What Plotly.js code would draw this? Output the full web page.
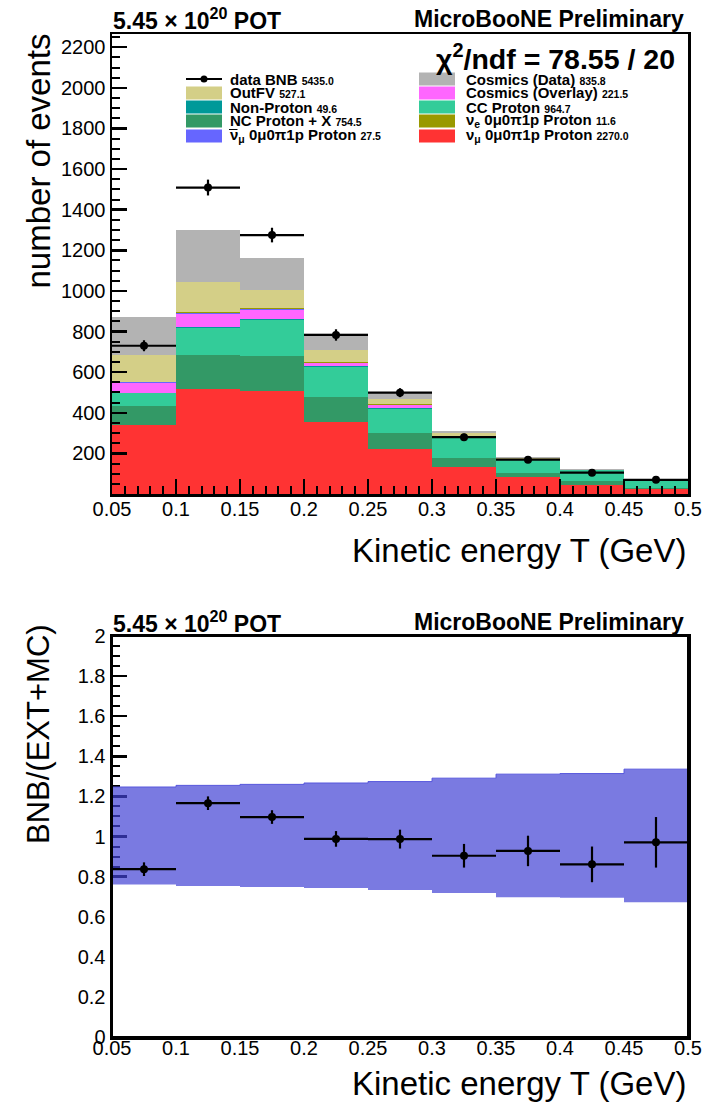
<!DOCTYPE html>
<html><head><meta charset="utf-8">
<script src="https://cdn.plot.ly/plotly-3.0.1.min.js"></script>
<style>html,body{margin:0;padding:0;background:#fff}#chart{width:703px;height:1103px}</style>
</head><body><div id="chart"></div>
<script>
// ---------------- data ----------------
const binEdges   = [0.05, 0.1, 0.15, 0.2, 0.25, 0.3, 0.35, 0.4, 0.45, 0.5];
const binCenters = [0.075, 0.125, 0.175, 0.225, 0.275, 0.325, 0.375, 0.425, 0.475];
const binHalfWidth = [0.025, 0.025, 0.025, 0.025, 0.025, 0.025, 0.025, 0.025, 0.025];

const numuProton     = [338, 517, 509, 353, 223, 133, 83, 46, 27];
const ncProtonX      = [93, 166, 169, 123, 77, 42, 22, 18, 4];
const ccProton       = [65, 133, 178, 147, 120, 103, 62, 52, 34];
const nonProton      = [3, 5, 4, 6, 5, 4, 3, 2, 2];
const cosmicsOverlay = [49, 66, 48, 15, 12, 2, 1, 0, 0];
const numubarProton  = [2, 5, 4, 3, 2, 1, 1, 0, 0];
const nueProton      = [1, 2, 2, 3, 2, 1, 1, 0, 0];
const outFV          = [134, 149, 90, 57, 28, 13, 4, 1, 1];
const cosmicsData    = [186, 258, 160, 87, 33, 13, 5, 2, 3];

const dataBNB    = [730, 1509, 1275, 783, 499, 280, 169, 105, 70];
const dataBNBErr = [27, 39, 36, 28, 22, 17, 13, 10, 8];

const ratio     = [0.837, 1.166, 1.097, 0.988, 0.987, 0.904, 0.928, 0.861, 0.971];
const ratioErr  = [0.034, 0.034, 0.034, 0.039, 0.047, 0.059, 0.076, 0.089, 0.126];
const bandUpper = [1.247, 1.255, 1.260, 1.267, 1.274, 1.291, 1.311, 1.314, 1.336];
const bandLower = [0.761, 0.753, 0.748, 0.743, 0.733, 0.718, 0.697, 0.694, 0.672];

const xTickVals = [0.05, 0.1, 0.15, 0.2, 0.25, 0.3, 0.35, 0.4, 0.45, 0.5];
const xTickText = ["0.05", "0.1", "0.15", "0.2", "0.25", "0.3", "0.35", "0.4", "0.45", "0.5"];
const yTickVals = [200, 400, 600, 800, 1000, 1200, 1400, 1600, 1800, 2000, 2200];
const yTickText = ["200", "400", "600", "800", "1000", "1200", "1400", "1600", "1800", "2000", "2200"];
const rTickVals = [0, 0.2, 0.4, 0.6, 0.8, 1, 1.2, 1.4, 1.6, 1.8, 2];
const rTickText = ["0", "0.2", "0.4", "0.6", "0.8", "1", "1.2", "1.4", "1.6", "1.8", "2"];

// stack order (bottom -> top)
const stackNames  = ["numuProton", "ncProtonX", "ccProton", "nonProton", "cosmicsOverlay", "numubarProton", "nueProton", "outFV", "cosmicsData"];
const stackValues = [numuProton, ncProtonX, ccProton, nonProton, cosmicsOverlay, numubarProton, nueProton, outFV, cosmicsData];
const stackColors = ["#ff3333", "#339966", "#33cc99", "#009999", "#ff66ff", "#6666ff", "#999900", "#d4cf87", "#b3b3b3"];

// legend
const legLeftLabels  = ["data BNB", "OutFV", "Non-Proton", "NC Proton + X", "ν<sub>μ</sub> 0μ0π1p Proton"];
const legLeftNums    = ["5435.0", "527.1", "49.6", "754.5", "27.5"];
const legLeftColors  = [null, "#d4cf87", "#009999", "#339966", "#6666ff"];
const legRightLabels = ["Cosmics (Data)", "Cosmics (Overlay)", "CC Proton", "ν<sub>e</sub> 0μ0π1p Proton", "ν<sub>μ</sub> 0μ0π1p Proton"];
const legRightNums   = ["835.8", "221.5", "964.7", "11.6", "2270.0"];
const legRightColors = ["#b3b3b3", "#ff66ff", "#33cc99", "#999900", "#ff3333"];

// ---------------- layout helpers ----------------
const W = 703, H = 1103;
const px = x => x / W;
const py = y => 1 - y / H;
const FONT = "Liberation Sans, Arial, Helvetica, sans-serif";
const xDom = [px(112), px(688)];
const topDom = [py(494), py(34)];
const botDom = [py(1037), py(636)];

const traces = [];
stackValues.forEach((vals, i) => {
  traces.push({
    type: "bar", x: binCenters, y: vals, width: 0.05, name: stackNames[i],
    marker: {color: stackColors[i], line: {width: 0}},
    xaxis: "x", yaxis: "y", showlegend: false, hoverinfo: "skip"
  });
});
traces.push({
  type: "scatter", mode: "markers", x: binCenters, y: dataBNB, name: "data BNB",
  marker: {color: "black", size: 8},
  error_x: {type: "data", array: binHalfWidth, width: 0, thickness: 2.2, color: "black"},
  error_y: {type: "data", array: dataBNBErr, width: 0, thickness: 2.2, color: "black"},
  xaxis: "x", yaxis: "y", showlegend: false
});

// ratio plot: step band
const stepX = binEdges.slice();
const stepLow = bandLower.concat([bandLower[bandLower.length - 1]]);
const stepUp = bandUpper.concat([bandUpper[bandUpper.length - 1]]);
traces.push({
  type: "scatter", mode: "lines", x: stepX, y: stepLow, line: {shape: "hv", width: 0, color: "white"},
  fill: "tozeroy", fillcolor: "white", xaxis: "x2", yaxis: "y2", showlegend: false, hoverinfo: "skip"
});
traces.push({
  type: "scatter", mode: "lines", x: stepX, y: stepUp, line: {shape: "hv", width: 1, color: "rgba(80,80,220,0.9)"},
  fill: "tonexty", fillcolor: "rgba(66,66,212,0.7)", xaxis: "x2", yaxis: "y2", showlegend: false, hoverinfo: "skip"
});
traces.push({
  type: "scatter", mode: "markers", x: binCenters, y: ratio, name: "ratio",
  marker: {color: "black", size: 8},
  error_x: {type: "data", array: binHalfWidth, width: 0, thickness: 2.2, color: "black"},
  error_y: {type: "data", array: ratioErr, width: 0, thickness: 2.2, color: "black"},
  xaxis: "x2", yaxis: "y2", showlegend: false
});

const axisCommon = {
  showline: true, linecolor: "black", linewidth: 2.5, mirror: true,
  ticks: "inside", ticklen: 15, tickwidth: 2.5, tickcolor: "black",
  showgrid: false, zeroline: false, fixedrange: true,
  tickfont: {family: FONT, size: 20, color: "black"}
};

const annotations = [];
function ann(text, x, y, size, xanchor, yanchor, extra) {
  annotations.push(Object.assign({
    text: text, xref: "paper", yref: "paper", x: px(x), y: py(y),
    xanchor: xanchor, yanchor: yanchor, showarrow: false,
    font: {family: FONT, size: size, color: "black"}
  }, extra || {}));
}
// headers
ann("<b>5.45 × 10<sup>20</sup> POT</b>", 111, 19, 23, "left", "middle");
ann("<b>MicroBooNE Preliminary</b>", 686, 19, 23, "right", "middle");
ann("<b>5.45 × 10<sup>20</sup> POT</b>", 111, 622, 23, "left", "middle");
ann("<b>MicroBooNE Preliminary</b>", 686, 622, 23, "right", "middle");
ann("<b>χ<sup>2</sup>/ndf = 78.55 / 20</b>", 677, 57, 28.5, "right", "middle");
// axis titles
ann("number of events", 38, 32, 33, "center", "top", {textangle: -90});
ann("Kinetic energy T (GeV)", 688, 551, 33, "right", "middle");
ann("BNB/(EXT+MC)", 38, 622, 31, "center", "top", {textangle: -90});
ann("Kinetic energy T (GeV)", 688, 1083, 33, "right", "middle");

// manual legend
const shapes = [];
const rowsY = [79, 93, 107, 121, 136];
function legendEntry(label, num, color, boxX0, textX, rowY) {
  if (color === null) {
    shapes.push({type: "line", xref: "paper", yref: "paper", x0: px(boxX0), x1: px(boxX0 + 36), y0: py(rowY), y1: py(rowY),
      line: {color: "black", width: 2}, layer: "above"});
    shapes.push({type: "circle", xref: "paper", yref: "paper", x0: px(boxX0 + 18 - 3.5), x1: px(boxX0 + 18 + 3.5),
      y0: py(rowY + 3.5), y1: py(rowY - 3.5), fillcolor: "black", line: {width: 0}, layer: "above"});
  } else {
    shapes.push({type: "rect", xref: "paper", yref: "paper", x0: px(boxX0), x1: px(boxX0 + 36), y0: py(rowY + 6.5), y1: py(rowY - 6.5),
      fillcolor: color, line: {width: 0}, layer: "above"});
  }
  ann("<b>" + label + "</b> <span style='font-size:10.5px'><b>" + num + "</b></span>", textX, rowY, 15, "left", "middle");
}
for (let i = 0; i < rowsY.length; i++) {
  legendEntry(legLeftLabels[i], legLeftNums[i], legLeftColors[i], 186, 228, rowsY[i]);
  legendEntry(legRightLabels[i], legRightNums[i], legRightColors[i], 419, 464, rowsY[i]);
}
// bar over the anti-neutrino symbol
shapes.push({type: "line", xref: "paper", yref: "paper", x0: px(229), x1: px(237.5), y0: py(129.5), y1: py(129.5),
  line: {color: "black", width: 1}, layer: "above"});
// ratio frame redraw (above band)
shapes.push({type: "rect", xref: "paper", yref: "paper", x0: xDom[0], x1: xDom[1], y0: botDom[0], y1: botDom[1],
  line: {color: "black", width: 2}, fillcolor: "rgba(0,0,0,0)", layer: "above"});

const layout = {
  width: W, height: H, margin: {l: 0, r: 0, t: 0, b: 0},
  paper_bgcolor: "white", plot_bgcolor: "white",
  barmode: "stack", bargap: 0, showlegend: false,
  xaxis: Object.assign({}, axisCommon, {domain: xDom, anchor: "y", range: [0.05, 0.5], tickmode: "array", ticklabelstandoff: -5,
    tickvals: xTickVals, ticktext: xTickText, minor: {ticks: "inside", ticklen: 8, tickwidth: 2, tickcolor: "black", tickmode: "linear", tick0: 0.05, dtick: 0.01}}),
  yaxis: Object.assign({}, axisCommon, {domain: topDom, anchor: "x", range: [0, 2265], tickmode: "array",
    tickvals: yTickVals, ticktext: yTickText, minor: {ticks: "inside", ticklen: 8, tickwidth: 2, tickcolor: "black", tickmode: "linear", tick0: 0, dtick: 50}}),
  xaxis2: Object.assign({}, axisCommon, {domain: xDom, anchor: "y2", range: [0.05, 0.5], tickmode: "array", layer: "below traces", ticklabelstandoff: -9,
    tickvals: xTickVals, ticktext: xTickText, minor: {ticks: "inside", ticklen: 8, tickwidth: 2, tickcolor: "black", tickmode: "linear", tick0: 0.05, dtick: 0.01}}),
  yaxis2: Object.assign({}, axisCommon, {domain: botDom, anchor: "x2", range: [0, 2], tickmode: "array", layer: "below traces",
    tickvals: rTickVals, ticktext: rTickText, minor: {ticks: "inside", ticklen: 8, tickwidth: 2, tickcolor: "black", tickmode: "linear", tick0: 0, dtick: 0.05}}),
  annotations: annotations,
  shapes: shapes
};

Plotly.newPlot("chart", traces, layout, {staticPlot: true, displayModeBar: false});
</script>
</body></html>
